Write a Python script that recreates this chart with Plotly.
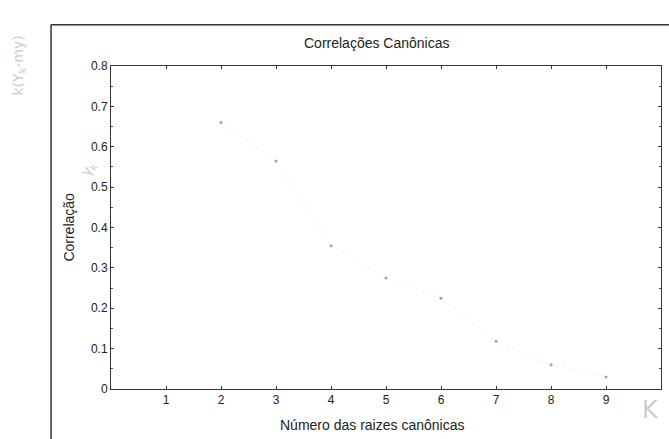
import plotly.graph_objects as go

# Canonical root number and its canonical correlation
roots = [2, 3, 4, 5, 6, 7, 8, 9]
correlations = [0.66, 0.565, 0.355, 0.275, 0.225, 0.118, 0.06, 0.03]

x_ticks = [1, 2, 3, 4, 5, 6, 7, 8, 9]
y_ticks = [0, 0.1, 0.2, 0.3, 0.4, 0.5, 0.6, 0.7, 0.8]
y_ticktext = ["0", "0.1", "0.2", "0.3", "0.4", "0.5", "0.6", "0.7", "0.8"]

fig = go.Figure()
fig.add_trace(go.Scatter(
    x=roots, y=correlations, mode="lines+markers",
    line=dict(color="#f0f0f0", width=1, dash="dot"),
    marker=dict(color="#a0a0a0", size=3, symbol="circle"),
    showlegend=False, hoverinfo="x+y",
))

axis_font = dict(family="Liberation Sans, Arial, sans-serif", size=12, color="#222222")

fig.update_layout(
    width=669, height=439,
    margin=dict(l=111, r=8, t=66, b=50),
    paper_bgcolor="white", plot_bgcolor="white",
    font=axis_font,
    xaxis=dict(
        range=[0, 10], tickvals=x_ticks, ticks="inside", ticklen=3,
        tickcolor="#333333", showgrid=False, zeroline=False,
        showline=True, linecolor="#333333", linewidth=1, mirror="ticks",
        tickfont=axis_font,
    ),
    yaxis=dict(
        range=[0, 0.8], tickvals=y_ticks, ticktext=y_ticktext,
        ticks="inside", ticklen=3, tickcolor="#333333",
        minor=dict(ticks="inside", ticklen=2, dtick=0.05, tickcolor="#555555"),
        showgrid=False, zeroline=False,
        showline=True, linecolor="#333333", linewidth=1, mirror="ticks",
        tickfont=axis_font,
    ),
)

# Outer frame (top and left edges)
fig.add_shape(type="line", xref="paper", yref="paper",
              x0=-0.109, x1=1.02, y0=1.128, y1=1.128,
              line=dict(color="#333333", width=1.5))
fig.add_shape(type="line", xref="paper", yref="paper",
              x0=-0.109, x1=-0.109, y0=1.128, y1=-0.16,
              line=dict(color="#333333", width=1.5))

title_font = dict(family="Liberation Sans, Arial, sans-serif", size=14, color="#222222")
fig.add_annotation(text="Correlações Canônicas", xref="paper", yref="paper",
                   x=0.484, y=1.072, xanchor="center", yanchor="middle",
                   showarrow=False, font=title_font)
fig.add_annotation(text="Número das raizes canônicas", xref="paper", yref="paper",
                   x=0.475, y=-0.112, xanchor="center", yanchor="middle",
                   showarrow=False, font=title_font)
fig.add_annotation(text="Correlação", xref="paper", yref="paper",
                   x=-0.078, y=0.5, xanchor="center", yanchor="middle",
                   textangle=-90, showarrow=False, font=title_font)

# Pencil notes
note_font = dict(family="DejaVu Sans, sans-serif", color="#cccccc")
fig.add_annotation(text="K", xref="paper", yref="paper",
                   x=0.98, y=-0.065, xanchor="center", yanchor="middle",
                   showarrow=False, font=dict(size=24, **note_font))
fig.add_annotation(text="γ<sub>k</sub>", xref="paper", yref="paper",
                   x=-0.04, y=0.68, xanchor="center", yanchor="middle",
                   textangle=-60, showarrow=False, font=dict(size=14, **note_font))
fig.add_annotation(text="k(Y<sub>k</sub>-my)", xref="paper", yref="paper",
                   x=-0.168, y=1.0, xanchor="center", yanchor="middle",
                   textangle=-90, showarrow=False, font=dict(size=14, **note_font))

fig.write_html("out.html")
